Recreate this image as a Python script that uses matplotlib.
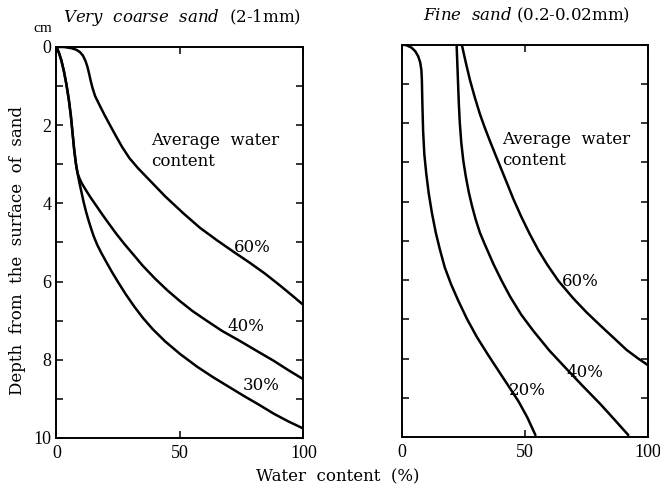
import numpy as np
import matplotlib
matplotlib.use("Agg")
import matplotlib.pyplot as plt
from matplotlib.ticker import MultipleLocator

plt.rcParams['font.family'] = ['DejaVu Serif']
plt.rcParams['mathtext.fontset'] = 'dejavuserif'

# very coarse sand (2-1mm): water content (%) vs depth (cm)
c60_x = [0, 3, 6, 8, 9.5, 10.7, 11.7, 12.5, 13.2, 13.9, 14.6, 15.6, 17.3, 19.3, 21.5, 24, 26.5, 29.5, 33,
         37.9, 44, 51.3, 58, 64.9, 71.5, 78.3, 84.5, 90.5, 95.5, 100]
c60_y = [0, 0, 0.03, 0.07, 0.13, 0.22, 0.35, 0.5, 0.68, 0.88, 1.05, 1.25, 1.47, 1.72, 1.98, 2.27, 2.55, 2.84, 3.1,
         3.42, 3.82, 4.25, 4.62, 4.94, 5.23, 5.52, 5.8, 6.1, 6.36, 6.6]
c40_x = [0, 1, 2, 3, 4, 5, 5.8, 6.5, 7.2, 7.9, 8.5, 9.3, 10.2, 11.5, 13.6, 16, 18.5, 21, 24, 27.5, 31, 35, 40,
         45, 50, 55, 60.8, 67, 74.3, 81, 87.8, 94, 100]
c40_y = [0, 0.15, 0.35, 0.62, 0.95, 1.35, 1.75, 2.2, 2.65, 3.0, 3.22, 3.36, 3.48, 3.62, 3.83, 4.05, 4.28, 4.5,
         4.76, 5.04, 5.3, 5.6, 5.93, 6.23, 6.5, 6.75, 7.0, 7.26, 7.52, 7.77, 8.02, 8.27, 8.5]
c30_x = [0, 1, 2, 3, 4, 5, 5.8, 6.5, 7.2, 7.9, 8.5, 9.2, 10, 11, 12, 13, 14, 15, 16.5, 18, 20, 22.5, 25, 28,
         31.5, 35, 39, 44, 50, 57, 63.5, 70, 76, 82, 88, 94, 100]
c30_y = [0, 0.15, 0.35, 0.62, 0.95, 1.35, 1.75, 2.2, 2.65, 3.0, 3.22, 3.45, 3.68, 3.97, 4.22, 4.44, 4.64,
         4.83, 5.06, 5.25, 5.48, 5.76, 6.02, 6.32, 6.64, 6.93, 7.22, 7.53, 7.85, 8.18, 8.45, 8.7, 8.93, 9.15,
         9.38, 9.58, 9.76]

# fine sand (0.2-0.02mm)
f60_x = [24.4, 26, 27.7, 29.7, 31.8, 33.8, 35.9, 38.2, 40.6, 43, 45.3, 48.5, 52, 55.5, 59, 63.6, 69.7, 75,
         80.5, 86, 91.3, 96, 100]
f60_y = [0, 0.45, 0.9, 1.35, 1.78, 2.13, 2.47, 2.83, 3.2, 3.57, 3.93, 4.38, 4.83, 5.24, 5.6, 6.02, 6.47,
         6.82, 7.15, 7.47, 7.78, 8.0, 8.17]
f40_x = [22.3, 22.6, 22.9, 23.2, 23.6, 24.2, 25, 26, 27.2, 28.5, 30, 31.8, 33.8, 37.3, 40.6, 44, 48.5, 53.5,
         60, 67, 73.5, 80.5, 86, 92]
f40_y = [0, 0.5, 1.0, 1.5, 2.0, 2.5, 2.95, 3.35, 3.75, 4.1, 4.45, 4.8, 5.1, 5.6, 6.02, 6.42, 6.88, 7.3,
         7.8, 8.27, 8.7, 9.15, 9.53, 9.95]
f20_x = [0, 2, 4, 5.5, 6.7, 7.5, 8, 8.2, 8.4, 8.7, 9.2, 10, 11, 12.3, 13.8, 15.5, 17.5, 20, 23, 26.5, 30.5,
         35, 40, 44, 47.5, 51, 54.3]
f20_y = [0, 0.02, 0.08, 0.17, 0.3, 0.45, 0.65, 0.9, 1.5, 2.2, 2.8, 3.3, 3.8, 4.3, 4.78, 5.22, 5.68, 6.1,
         6.53, 6.99, 7.45, 7.9, 8.38, 8.76, 9.1, 9.5, 9.95]

xticks = [0, 50, 100]
yticks = [0, 2, 4, 6, 8, 10]

fig = plt.figure(figsize=(6.6, 4.88), dpi=100)
ax1 = fig.add_axes([0.0856, 0.1025, 0.3742, 0.8012])
ax2 = fig.add_axes([0.6086, 0.1045, 0.3732, 0.8043])

style = dict(color='black', lw=1.8, solid_joinstyle='round', solid_capstyle='round')
ax1.plot(c60_x, c60_y, **style)
ax1.plot(c40_x, c40_y, **style)
ax1.plot(c30_x, c30_y, **style)
ax2.plot(f60_x, f60_y, **style)
ax2.plot(f40_x, f40_y, **style)
ax2.plot(f20_x, f20_y, **style)

for ax in (ax1, ax2):
    ax.set_xlim(0, 100)
    ax.set_ylim(10, 0)
    ax.set_xticks(xticks)
    ax.set_yticks(yticks)
    ax.yaxis.set_minor_locator(MultipleLocator(1))
    ax.tick_params(which='both', direction='in', top=True, right=True, length=5, width=1.1)
    ax.tick_params(axis='x', pad=5)
    for s in ax.spines.values():
        s.set_linewidth(1.4)
    for lab in ax.get_xticklabels() + ax.get_yticklabels():
        lab.set_fontfamily('Liberation Serif')
        lab.set_fontsize(13)

ax2.tick_params(axis='y', which='both', labelleft=False)

fig.text(182 / 660, 1 - 22 / 488, r"$\it{Very\ \ coarse\ \ sand}$  (2-1mm)", fontsize=12,
         ha='center', va='baseline')
fig.text(526 / 660, 1 - 20 / 488, r"$\it{Fine\ \ sand}$ (0.2-0.02mm)", fontsize=12,
         ha='center', va='baseline')

ax1.set_ylabel("Depth  from  the  surface  of  sand", fontsize=12)
ax1.yaxis.set_label_coords(-0.125, 0.48)
fig.text(338 / 660, 1 - 477 / 488, "Water  content  (%)", fontsize=12, ha='center', va='center')
fig.text(43 / 660, 1 - 29 / 488, "cm", fontsize=11, ha='center', va='center',
         fontfamily='Liberation Serif')

ax1.text(38.5, 2.65, "Average  water\ncontent", fontsize=12, ha='left', va='center', linespacing=1.3)
ax2.text(40.6, 2.69, "Average  water\ncontent", fontsize=12, ha='left', va='center', linespacing=1.3)

ax1.text(79.1, 5.14, "60%", fontsize=12, ha='center', va='center')
ax1.text(76.6, 7.16, "40%", fontsize=12, ha='center', va='center')
ax1.text(82.7, 8.65, "30%", fontsize=12, ha='center', va='center')
ax2.text(72.4, 6.03, "60%", fontsize=12, ha='center', va='center')
ax2.text(74.2, 8.36, "40%", fontsize=12, ha='center', va='center')
ax2.text(51.1, 8.82, "20%", fontsize=12, ha='center', va='center')

fig.savefig("out.png", dpi=100)
